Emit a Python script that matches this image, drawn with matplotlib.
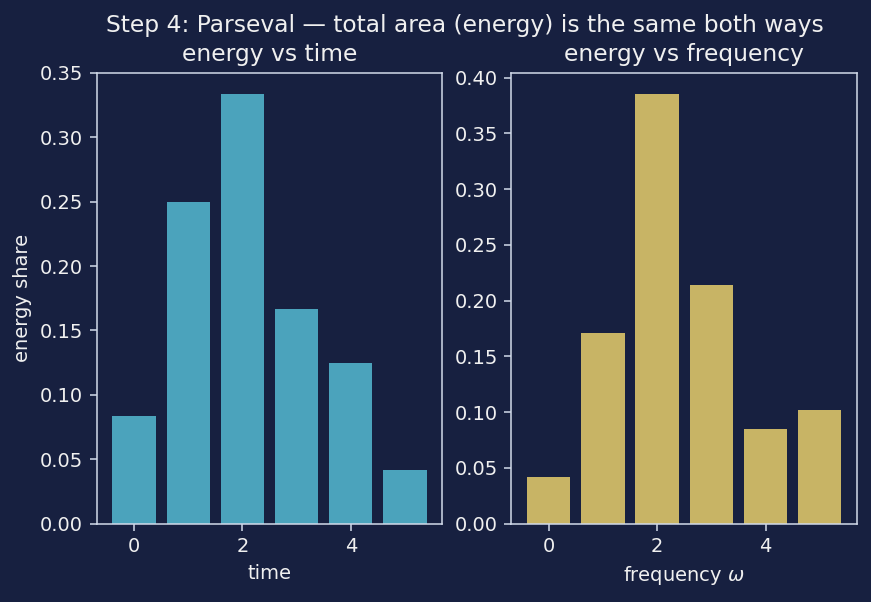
import matplotlib
matplotlib.use("Agg")
import matplotlib.pyplot as plt

# energy shares
time_idx = [0, 1, 2, 3, 4, 5]
energy_time = [0.0833, 0.25, 0.3333, 0.1667, 0.125, 0.0417]

freq_idx = [0, 1, 2, 3, 4, 5]
energy_freq = [0.042, 0.171, 0.385, 0.214, 0.085, 0.102]

bg = '#172040'
fg = '#f0f0f0'
spine_col = '#d0d8e8'

plt.rcParams['font.family'] = ['DejaVu Sans']

fig, (ax1, ax2) = plt.subplots(1, 2, figsize=(871 / 140, 602 / 140), dpi=140)
fig.patch.set_facecolor(bg)

ax1.bar(time_idx, energy_time, color='#4ba3bc')
ax2.bar(freq_idx, energy_freq, color='#c8b465')
ax1.set_ylim(0, 0.35)

ax1.set_title('energy vs time', color=fg, fontsize=12)
ax2.set_title('energy vs frequency', color=fg, fontsize=12)
ax1.set_xlabel('time', color=fg, fontsize=10)
ax2.set_xlabel(r'frequency $\omega$', color=fg, fontsize=10)
ax1.set_ylabel('energy share', color=fg, fontsize=10)

for ax in (ax1, ax2):
    ax.set_facecolor(bg)
    for s in ax.spines.values():
        s.set_color(spine_col)
    ax.tick_params(colors=spine_col, labelcolor=fg, labelsize=10)

fig.suptitle('Step 4: Parseval \u2014 total area (energy) is the same both ways',
             color=fg, fontsize=12, x=0.534, y=0.977)
fig.subplots_adjust(left=0.111, right=0.984, top=0.879, bottom=0.130, wspace=0.2)
fig.savefig('out.png', facecolor=bg)
